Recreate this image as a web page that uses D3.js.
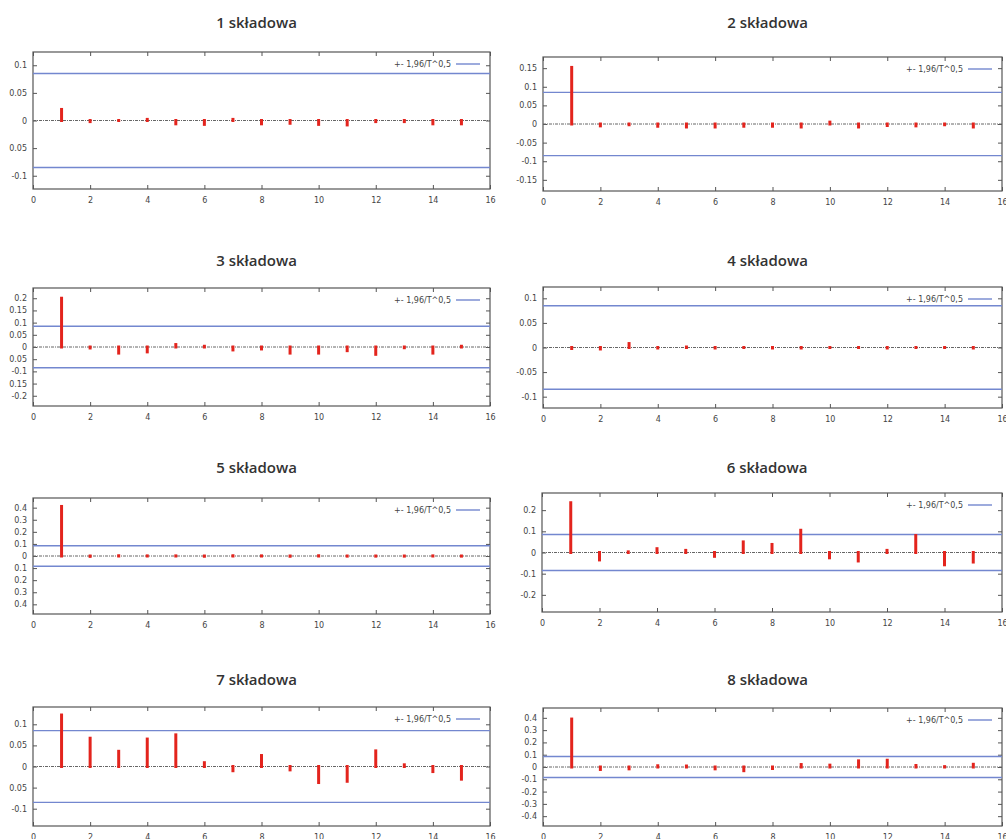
<!DOCTYPE html>
<html>
<head>
<meta charset="utf-8">
<script src="https://cdnjs.cloudflare.com/ajax/libs/d3/7.8.5/d3.min.js"></script>
<style>
  body { margin: 0; background: #fff; }
  .title { font-family: "Open Sans", sans-serif; font-size: 15px; font-weight: 600; fill: #333; }
  .axis text { font-family: "DejaVu Sans", sans-serif; font-size: 8px; fill: #444; }
  .axis line { stroke: #555; }
  .legend { font-family: "DejaVu Sans", sans-serif; font-size: 8px; fill: #444; }
</style>
</head>
<body>
<div id="chart"></div>
<script>
// lags on the x axis
let lags = [1, 2, 3, 4, 5, 6, 7, 8, 9, 10, 11, 12, 13, 14, 15];
let xTicks = [0, 2, 4, 6, 8, 10, 12, 14, 16];
let bound = 0.085; // 1,96/T^0,5
let legendLabel = "+- 1,96/T^0,5";

let titles = ["1 składowa", "2 składowa", "3 składowa", "4 składowa",
              "5 składowa", "6 składowa", "7 składowa", "8 składowa"];

// autocorrelation
let acf1 = [0.020, -0.002, 0.000, 0.002, -0.006, -0.007, 0.002, -0.006, -0.005, -0.007, -0.008, -0.002, -0.002, -0.006, -0.006];
let acf2 = [0.152, -0.005, -0.002, -0.006, -0.008, -0.008, -0.006, -0.006, -0.008, 0.005, -0.008, -0.004, -0.005, -0.002, -0.008];
let acf3 = [0.200, -0.004, -0.025, -0.020, 0.010, 0.003, -0.012, -0.008, -0.025, -0.025, -0.015, -0.030, -0.003, -0.025, 0.003];
let acf4 = [-0.002, -0.003, 0.008, -0.001, 0.001, -0.001, 0.000, -0.001, -0.001, 0.000, 0.000, -0.001, 0.000, 0.000, -0.001];
let acf5 = [0.410, -0.003, 0.002, 0.001, 0.001, -0.002, 0.002, 0.001, -0.002, 0.002, -0.001, -0.001, -0.001, 0.001, -0.001];
let acf6 = [0.235, -0.035, 0.003, 0.018, 0.010, -0.018, 0.050, 0.038, 0.105, -0.025, -0.040, 0.010, 0.080, -0.058, -0.045];
let acf7 = [0.122, 0.067, 0.036, 0.065, 0.075, 0.009, -0.010, 0.026, -0.008, -0.038, -0.035, 0.037, 0.004, -0.012, -0.030];
let acf8 = [0.390, -0.020, -0.015, 0.010, 0.008, -0.015, -0.030, -0.012, 0.020, 0.015, 0.050, 0.055, 0.012, 0.003, 0.022];
let series = [acf1, acf2, acf3, acf4, acf5, acf6, acf7, acf8];

// y range of each panel
let yMax = [0.124, 0.18, 0.242, 0.123, 0.48, 0.281, 0.141, 0.48];

// y ticks and their labels, as printed
let yTicks1 = [0.1, 0.05, 0, -0.05, -0.1];
let yLabels1 = ["0.1", "0.05", "0", "0.05", "-0.1"];
let yTicks2 = [0.15, 0.1, 0.05, 0, -0.05, -0.1, -0.15];
let yLabels2 = ["0.15", "0.1", "0.05", "0", "-0.05", "-0.1", "-0.15"];
let yTicks3 = [0.2, 0.15, 0.1, 0.05, 0, -0.05, -0.1, -0.15, -0.2];
let yLabels3 = ["0.2", "0.15", "0.1", "0.05", "0", "0.05", "-0.1", "0.15", "-0.2"];
let yTicks4 = [0.1, 0.05, 0, -0.05, -0.1];
let yLabels4 = ["0.1", "0.05", "0", "-0.05", "-0.1"];
let yTicks5 = [0.4, 0.3, 0.2, 0.1, 0, -0.1, -0.2, -0.3, -0.4];
let yLabels5 = ["0.4", "0.3", "0.2", "0.1", "0", "0.1", "0.2", "0.3", "0.4"];
let yTicks6 = [0.2, 0.1, 0, -0.1, -0.2];
let yLabels6 = ["0.2", "0.1", "0", "-0.1", "-0.2"];
let yTicks7 = [0.1, 0.05, 0, -0.05, -0.1];
let yLabels7 = ["0.1", "0.05", "0", "0.05", "-0.1"];
let yTicks8 = [0.4, 0.3, 0.2, 0.1, 0, -0.1, -0.2, -0.3, -0.4];
let yLabels8 = ["0.4", "0.3", "0.2", "0.1", "0", "-0.1", "-0.2", "-0.3", "-0.4"];
let yTicks = [yTicks1, yTicks2, yTicks3, yTicks4, yTicks5, yTicks6, yTicks7, yTicks8];
let yLabels = [yLabels1, yLabels2, yLabels3, yLabels4, yLabels5, yLabels6, yLabels7, yLabels8];

// panel frames: [left, right, top, bottom]
let frames = [
  [33, 490, 52, 189], [543, 1002, 57, 191],
  [33, 490, 288, 406], [543, 1002, 287, 408],
  [33, 490, 498, 614], [542, 1002, 493, 612],
  [33, 490, 707, 826], [543, 1002, 708, 826]
];
let titleY = [28, 28, 266, 266, 473, 473, 685, 685];

let red = "#e3241d", blue = "#7387cf";

let svg = d3.select("#chart").append("svg")
    .attr("width", 1006)
    .attr("height", 839);

series.forEach(function (vals, i) {
  let f = frames[i];
  let x = d3.scaleLinear().domain([0, 16]).range([f[0], f[1]]);
  let y = d3.scaleLinear().domain([-yMax[i], yMax[i]]).range([f[3], f[2]]);
  let g = svg.append("g");

  g.append("text")
    .attr("class", "title")
    .attr("x", (f[0] + f[1]) / 2 - 5)
    .attr("y", titleY[i])
    .attr("text-anchor", "middle")
    .text(titles[i]);

  // axes with inward ticks, mirrored
  let labs = yLabels[i];
  g.append("g").attr("class", "axis")
    .attr("transform", "translate(0," + f[3] + ")")
    .call(d3.axisBottom(x).tickValues(xTicks).tickSize(-4).tickPadding(8).tickFormat(d3.format("d")));
  g.append("g").attr("class", "axis")
    .attr("transform", "translate(0," + f[2] + ")")
    .call(d3.axisTop(x).tickValues(xTicks).tickSize(-4).tickFormat(""));
  g.append("g").attr("class", "axis")
    .attr("transform", "translate(" + f[0] + ",0)")
    .call(d3.axisLeft(y).tickValues(yTicks[i]).tickSize(-4).tickPadding(6)
      .tickFormat(function (d, k) { return labs[k]; }));
  g.append("g").attr("class", "axis")
    .attr("transform", "translate(" + f[1] + ",0)")
    .call(d3.axisRight(y).tickValues(yTicks[i]).tickSize(-4).tickFormat(""));
  g.selectAll(".axis .domain").remove();

  g.append("rect")
    .attr("x", f[0]).attr("y", f[2])
    .attr("width", f[1] - f[0]).attr("height", f[3] - f[2])
    .attr("fill", "none")
    .attr("stroke", "#555")
    .attr("stroke-width", 1.2);

  // zero axis
  g.append("line")
    .attr("x1", x(0)).attr("x2", x(16))
    .attr("y1", y(0)).attr("y2", y(0))
    .attr("stroke", "#666")
    .attr("stroke-width", 1)
    .attr("stroke-dasharray", "3,1,1,1");

  // confidence bounds
  g.selectAll(".bound").data([bound, -bound]).enter().append("line")
    .attr("x1", x(0)).attr("x2", x(16))
    .attr("y1", function (d) { return y(d); })
    .attr("y2", function (d) { return y(d); })
    .attr("stroke", blue)
    .attr("stroke-width", 1.4);

  // impulses
  g.selectAll(".imp").data(vals).enter().append("line")
    .attr("x1", function (d, k) { return x(lags[k]); })
    .attr("x2", function (d, k) { return x(lags[k]); })
    .attr("y1", y(0))
    .attr("y2", function (d) { return y(d); })
    .attr("stroke", red)
    .attr("stroke-width", 3)
    .attr("stroke-linecap", "square");

  // legend
  let lx = f[1] - 10;
  let ly = f[2] + 12;
  g.append("line")
    .attr("x1", lx - 24).attr("x2", lx)
    .attr("y1", ly).attr("y2", ly)
    .attr("stroke", blue)
    .attr("stroke-width", 1.4);
  g.append("text")
    .attr("class", "legend")
    .attr("x", lx - 29)
    .attr("y", ly + 3)
    .attr("text-anchor", "end")
    .text(legendLabel);
});
</script>
</body>
</html>
